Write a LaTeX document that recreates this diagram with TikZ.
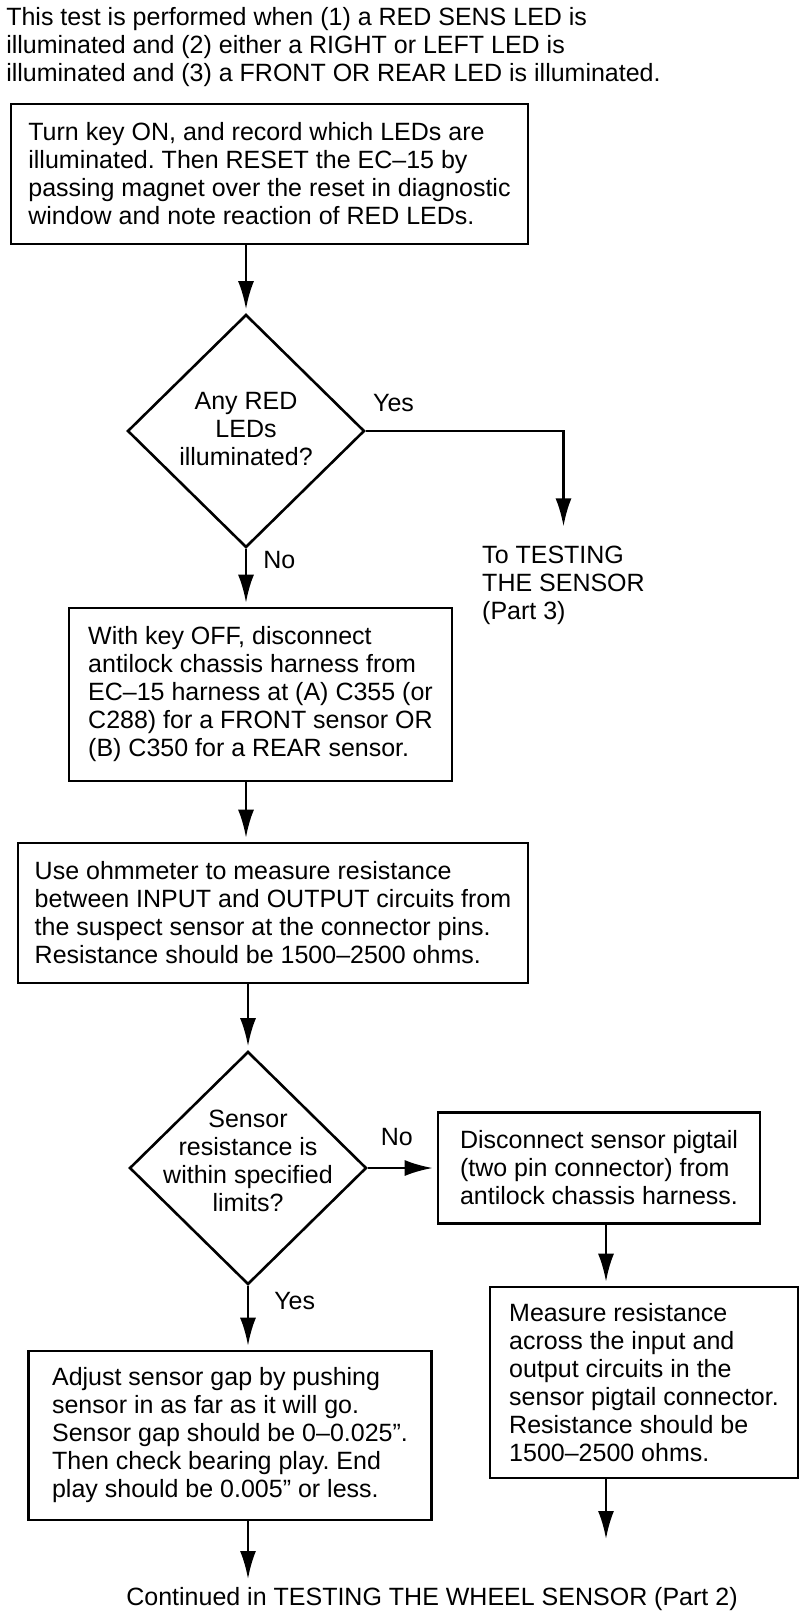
\documentclass[tikz,border=0pt]{standalone}
\usepackage{fontspec}
\setmainfont{Liberation Sans}
\frenchspacing
\usetikzlibrary{shapes.geometric,arrows.meta}
\tikzstyle{stepbox} = [rectangle, draw, align=left, inner xsep=4pt, inner ysep=0pt]
\tikzstyle{decision} = [diamond, draw, aspect=1, align=center, inner sep=-20pt,
    minimum width=118.5pt, minimum height=116.5pt]
\tikzstyle{note} = [align=left, inner sep=0pt]
\tikzstyle{answer} = [inner sep=0pt]
\tikzstyle{line} = [draw, -{Latex[length=14pt,width=8pt]}, shorten >=2pt]

\begin{document}
\begin{tikzpicture}[node distance=2cm, auto, x=0.5pt, y=-0.5pt, line width=1.3pt,
    font=\fontsize{12.5}{14}\selectfont]
    \fill [white] (0,0) rectangle (800,1620);
    % Place nodes
    \node [note, anchor=west] (intro) at (5,47) {This test is performed when (1) a RED SENS LED is\\ illuminated and (2) either a RIGHT or LEFT LED is\\ illuminated and (3) a FRONT OR REAR LED is illuminated.};
    \node [stepbox, minimum width=258.5pt, minimum height=70pt] (turnkey) at (269.5,174) {Turn key ON, and record which LEDs are\\ illuminated. Then RESET the EC–15 by\\ passing magnet over the reset in diagnostic\\ window and note reaction of RED LEDs.};
    \node [decision, text depth=2.5pt, below of=turnkey, node distance=128.5pt, xshift=-11.75pt] (anyred) {Any RED\\ LEDs\\ illuminated?};
    \node [note, right of=anyred, node distance=158.75pt, yshift=-77pt] (totest) {To TESTING\\ THE SENSOR\\ (Part 3)};
    \node [stepbox, minimum width=191.5pt, minimum height=86.5pt, below of=anyred, node distance=131.75pt, xshift=7.25pt] (disconnect) {With key OFF, disconnect\\ antilock chassis harness from\\ EC–15 harness at (A) C355 (or\\ C288) for a FRONT sensor OR\\ (B) C350 for a REAR sensor.};
    \node [stepbox, minimum width=255pt, minimum height=70pt, below of=disconnect, node distance=109.25pt, xshift=6.25pt] (ohm) {Use ohmmeter to measure resistance\\ between INPUT and OUTPUT circuits from\\ the suspect sensor at the connector pins.\\ Resistance should be 1500–2500 ohms.};
    \node [decision, text depth=7pt, below of=ohm, node distance=127.5pt, xshift=-12.5pt] (sensres) {Sensor\\ resistance is\\ within specified\\ limits?};
    \node [stepbox, minimum width=161pt, minimum height=55.5pt, right of=sensres, node distance=175.5pt] (pigtail) {Disconnect sensor pigtail\\ (two pin connector) from\\ antilock chassis harness.};
    \node [stepbox, minimum width=154pt, minimum height=95.5pt, below of=pigtail, node distance=107.25pt, xshift=22.5pt] (measure) {Measure resistance\\ across the input and\\ output circuits in the\\ sensor pigtail connector.\\ Resistance should be\\ 1500–2500 ohms.};
    \node [stepbox, minimum width=201.25pt, minimum height=84.5pt, below of=sensres, node distance=133.75pt, xshift=-9pt] (adjust) {Adjust sensor gap by pushing\\ sensor in as far as it will go.\\ Sensor gap should be 0–0.025”.\\ Then check bearing play. End\\ play should be 0.005” or less.};
    \node [answer] (continued) at (432,1599) {Continued in TESTING THE WHEEL SENSOR (Part 2)};
    \coordinate (measend) at (606,1543);
    \coordinate (contend) at (248,1583);
    % Draw edges
    \path [line] (turnkey.south -| anyred) -- (anyred);
    \path [line, shorten >=9pt] (anyred) -| node [answer, pos=0.07, above=9pt] (yes1) {Yes} (totest);
    \path [line] (anyred) -- node [answer, pos=0.19, right=8pt] (no1) {No} (anyred |- disconnect.north);
    \path [line] (disconnect.south -| anyred) -- (anyred |- ohm.north);
    \path [line] (ohm.south -| sensres) -- (sensres);
    \path [line] (sensres) -- node [answer, pos=0.42, above=10.5pt] (no2) {No} (sensres -| pigtail.west);
    \path [line] (sensres) -- node [answer, pos=0.23, right=12.5pt] (yes2) {Yes} (sensres |- adjust.north);
    \path [line] (pigtail.south -| measend) -- (measend |- measure.north);
    \path [line] (measure.south -| measend) -- (measend);
    \path [line] (adjust.south -| contend) -- (contend);
\end{tikzpicture}
\end{document}
